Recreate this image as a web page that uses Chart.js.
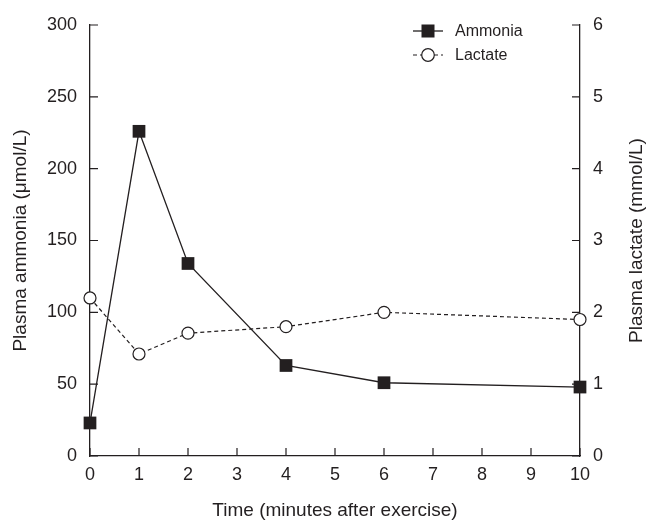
<!DOCTYPE html>
<html>
<head>
<meta charset="utf-8">
<script src="https://cdn.jsdelivr.net/npm/chart.js@4/dist/chart.umd.min.js"></script>
<style>
  html, body { margin: 0; padding: 0; background: #ffffff; }
  canvas { display: block; }
</style>
</head>
<body>
<canvas id="c" width="649" height="524"></canvas>
<script>
// ---- data ----
const timePoints   = [0, 1, 2, 4, 6, 10];
const ammoniaVals  = [23, 226, 134, 63, 51, 48];
const lactateVals  = [2.2, 1.42, 1.71, 1.8, 2.0, 1.9];
const xTickVals    = [0, 1, 2, 3, 4, 5, 6, 7, 8, 9, 10];
const ammoniaTicks = [0, 50, 100, 150, 200, 250, 300];
const lactateTicks = [0, 1, 2, 3, 4, 5, 6];
const seriesNames  = ['Ammonia', 'Lactate'];
const xTitle       = 'Time (minutes after exercise)';
const yTitle       = 'Plasma ammonia (\u03BCmol/L)';
const y1Title      = 'Plasma lactate (mmol/L)';

const INK = '#231f20';
const FONT = "'Liberation Sans', Arial, sans-serif";
const TICK_LEN = 8;

const inwardTicks = {
  id: 'inwardTicks',
  beforeDatasetsDraw(chart) {
    const ctx = chart.ctx;
    const { left, right, bottom } = chart.chartArea;
    const { x, y, y1 } = chart.scales;
    ctx.save();
    ctx.strokeStyle = INK;
    ctx.lineWidth = 1.2;
    ctx.beginPath();
    x.ticks.forEach((t, i) => {
      const px = x.getPixelForTick(i);
      ctx.moveTo(px, bottom); ctx.lineTo(px, bottom - TICK_LEN);
    });
    y.ticks.forEach((t, i) => {
      const py = y.getPixelForTick(i);
      ctx.moveTo(left, py); ctx.lineTo(left + TICK_LEN, py);
    });
    y1.ticks.forEach((t, i) => {
      const py = y1.getPixelForTick(i);
      ctx.moveTo(right, py); ctx.lineTo(right - TICK_LEN, py);
    });
    ctx.stroke();
    ctx.restore();
  },
  afterDraw(chart) {
    const ctx = chart.ctx;
    const { top, bottom, right } = chart.chartArea;
    ctx.save();
    // right axis title, reading bottom-to-top
    ctx.fillStyle = INK;
    ctx.font = '19px ' + FONT;
    ctx.textAlign = 'center';
    ctx.textBaseline = 'middle';
    ctx.translate(637, (top + bottom) / 2);
    ctx.rotate(-Math.PI / 2);
    ctx.fillText(y1Title, 0, 0);
    ctx.restore();

    // legend
    ctx.save();
    const lx0 = right - 167, lx1 = right - 137, mx = (lx0 + lx1) / 2, tx = right - 125;
    const rows = [top + 6, top + 30];
    chart.data.datasets.forEach((ds, i) => {
      const ry = rows[i];
      ctx.strokeStyle = INK;
      ctx.lineWidth = ds.borderWidth;
      ctx.setLineDash(ds.borderDash || []);
      ctx.beginPath(); ctx.moveTo(lx0, ry); ctx.lineTo(lx1, ry); ctx.stroke();
      ctx.setLineDash([]);
      ctx.lineWidth = ds.pointBorderWidth;
      ctx.fillStyle = ds.pointBackgroundColor;
      if (ds.pointStyle === 'rect') {
        const s = 6.5;
        ctx.fillRect(mx - s, ry - s, 2 * s, 2 * s);
      } else {
        ctx.beginPath(); ctx.arc(mx, ry, 6.3, 0, Math.PI * 2); ctx.fill(); ctx.stroke();
      }
      ctx.fillStyle = INK;
      ctx.font = '16px ' + FONT;
      ctx.textAlign = 'left';
      ctx.textBaseline = 'middle';
      ctx.fillText(ds.label, tx, ry + 1);
    });
    ctx.restore();
  }
};

const ctx = document.getElementById('c').getContext('2d');
new Chart(ctx, {
  type: 'line',
  data: {
    datasets: [
      {
        label: seriesNames[0],
        data: timePoints.map((t, i) => ({ x: t, y: ammoniaVals[i] })),
        yAxisID: 'y',
        borderColor: INK,
        borderWidth: 1.3,
        pointStyle: 'rect',
        pointRadius: 9,
        pointBackgroundColor: INK,
        pointBorderColor: INK,
        pointBorderWidth: 0,
        tension: 0,
        clip: false,
        order: 1
      },
      {
        label: seriesNames[1],
        data: timePoints.map((t, i) => ({ x: t, y: lactateVals[i] })),
        yAxisID: 'y1',
        borderColor: INK,
        borderWidth: 1.2,
        borderDash: [4, 3],
        pointStyle: 'circle',
        pointRadius: 6,
        pointBackgroundColor: '#ffffff',
        pointBorderColor: INK,
        pointBorderWidth: 1.2,
        tension: 0,
        clip: false,
        order: 2
      }
    ]
  },
  options: {
    responsive: false,
    animation: false,
    events: [],
    layout: { padding: { top: 25, left: 0, right: 0, bottom: 0 } },
    plugins: { legend: { display: false }, tooltip: { enabled: false } },
    scales: {
      x: {
        type: 'linear',
        min: 0, max: 10,
        afterBuildTicks: s => { s.ticks = xTickVals.map(v => ({ value: v })); },
        afterFit: s => { s.height = 68; },
        grid: { display: false, drawTicks: false },
        border: { display: true, color: INK, width: 1.3 },
        ticks: { color: INK, font: { family: FONT, size: 18 }, padding: 8, maxRotation: 0 },
        title: { display: true, text: xTitle, color: INK, font: { family: FONT, size: 19 }, padding: { top: 0, bottom: 2 } }
      },
      y: {
        type: 'linear',
        position: 'left',
        min: 0, max: 300,
        afterBuildTicks: s => { s.ticks = ammoniaTicks.map(v => ({ value: v })); },
        afterFit: s => { s.width = 90; },
        grid: { display: false, drawTicks: false },
        border: { display: true, color: INK, width: 1.3 },
        ticks: { color: INK, font: { family: FONT, size: 18 }, padding: 13 },
        title: { display: true, text: yTitle, color: INK, font: { family: FONT, size: 19 }, padding: { top: 9, bottom: 0 } }
      },
      y1: {
        type: 'linear',
        position: 'right',
        min: 0, max: 6,
        afterBuildTicks: s => { s.ticks = lactateTicks.map(v => ({ value: v })); },
        afterFit: s => { s.width = 69; },
        grid: { display: false, drawTicks: false },
        border: { display: true, color: INK, width: 1.3 },
        ticks: { color: INK, font: { family: FONT, size: 18 }, padding: 13 },
        title: { display: false }
      }
    }
  },
  plugins: [inwardTicks]
});
</script>
</body>
</html>
